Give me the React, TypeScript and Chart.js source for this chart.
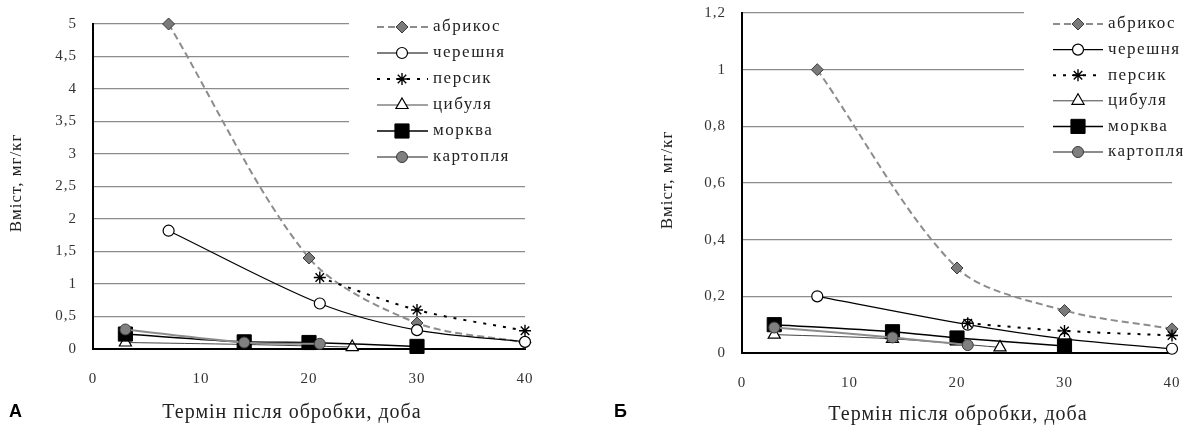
import React, { useEffect, useRef } from 'react';
import { Chart, registerables } from 'chart.js';

Chart.register(...registerables);

// ---------- data ----------
const SERIES_NAMES = ['абрикос', 'черешня', 'персик', 'цибуля', 'морква', 'картопля'];
const X_TICKS = [0, 10, 20, 30, 40];
const A_Y_TICKS = [0, 0.5, 1, 1.5, 2, 2.5, 3, 3.5, 4, 4.5, 5];
const B_Y_TICKS = [0, 0.2, 0.4, 0.6, 0.8, 1, 1.2];
const X_TITLE = 'Термін після обробки, доба';
const Y_TITLE = 'Вміст, мг/кг';

// Chart А
const A_APRICOT_DAYS = [7, 20, 30, 40];
const A_APRICOT = [5.0, 1.4, 0.4, 0.1];
const A_CHERRY_DAYS = [7, 21, 30, 40];
const A_CHERRY = [1.82, 0.7, 0.29, 0.11];
const A_PEACH_DAYS = [21, 30, 40];
const A_PEACH = [1.1, 0.6, 0.28];
const A_ONION_DAYS = [3, 14, 24];
const A_ONION = [0.1, 0.07, 0.03];
const A_CARROT_DAYS = [3, 14, 20, 30];
const A_CARROT = [0.23, 0.11, 0.1, 0.04];
const A_POTATO_DAYS = [3, 14, 21];
const A_POTATO = [0.3, 0.1, 0.08];

// Chart Б
const B_APRICOT_DAYS = [7, 20, 30, 40];
const B_APRICOT = [1.0, 0.3, 0.15, 0.085];
const B_CHERRY_DAYS = [7, 21, 30, 40];
const B_CHERRY = [0.2, 0.1, 0.05, 0.015];
const B_PEACH_DAYS = [21, 30, 40];
const B_PEACH = [0.105, 0.078, 0.062];
const B_ONION_DAYS = [3, 14, 24];
const B_ONION = [0.065, 0.05, 0.02];
const B_CARROT_DAYS = [3, 14, 20, 30];
const B_CARROT = [0.1, 0.075, 0.053, 0.025];
const B_POTATO_DAYS = [3, 14, 21];
const B_POTATO = [0.09, 0.055, 0.028];

// ---------- styles ----------
const SERIF = '"Liberation Serif", "Times New Roman", serif';

type SeriesStyle = {
  pointStyle: string; radius: number; fill: string; stroke: string; pbw: number;
  line: string; lw: number; dash: number[];
};

const STYLES: SeriesStyle[] = [
  { pointStyle: 'rectRot', radius: 6, fill: '#7a7a7a', stroke: '#3a3a3a', pbw: 1, line: '#8c8c8c', lw: 2, dash: [7, 4] },
  { pointStyle: 'circle', radius: 5.5, fill: '#ffffff', stroke: '#000000', pbw: 1.2, line: '#000000', lw: 1.2, dash: [] },
  { pointStyle: 'star', radius: 6, fill: '#000000', stroke: '#000000', pbw: 1.4, line: '#000000', lw: 2, dash: [3, 7] },
  { pointStyle: 'triangle', radius: 7, fill: '#ffffff', stroke: '#000000', pbw: 1.2, line: '#444444', lw: 1, dash: [] },
  { pointStyle: 'rect', radius: 10, fill: '#000000', stroke: '#000000', pbw: 1, line: '#000000', lw: 1.5, dash: [] },
  { pointStyle: 'circle', radius: 5.5, fill: '#808080', stroke: '#3a3a3a', pbw: 1, line: '#8c8c8c', lw: 2, dash: [] },
];

function drawMarker(ctx: CanvasRenderingContext2D, s: SeriesStyle, x: number, y: number) {
  const r = s.radius;
  ctx.save();
  ctx.setLineDash([]);
  ctx.fillStyle = s.fill;
  ctx.strokeStyle = s.stroke;
  ctx.lineWidth = s.pbw;
  ctx.beginPath();
  if (s.pointStyle === 'circle') {
    ctx.arc(x, y, r, 0, Math.PI * 2);
    ctx.fill(); ctx.stroke();
  } else if (s.pointStyle === 'rectRot') {
    ctx.moveTo(x, y - r); ctx.lineTo(x + r, y); ctx.lineTo(x, y + r); ctx.lineTo(x - r, y); ctx.closePath();
    ctx.fill(); ctx.stroke();
  } else if (s.pointStyle === 'rect') {
    const h = r * Math.SQRT1_2;
    ctx.rect(x - h, y - h, 2 * h, 2 * h);
    ctx.fill(); ctx.stroke();
  } else if (s.pointStyle === 'triangle') {
    ctx.moveTo(x, y - r);
    ctx.lineTo(x + r * 0.866, y + r / 2);
    ctx.lineTo(x - r * 0.866, y + r / 2);
    ctx.closePath();
    ctx.fill(); ctx.stroke();
  } else if (s.pointStyle === 'star') {
    for (let k = 0; k < 4; k++) {
      const a = (k * Math.PI) / 4;
      ctx.moveTo(x + Math.sin(a) * r, y - Math.cos(a) * r);
      ctx.lineTo(x - Math.sin(a) * r, y + Math.cos(a) * r);
    }
    ctx.stroke();
  }
  ctx.restore();
}

const fmt = (v: number) => String(+(+v).toFixed(1)).replace('.', ',');

type PanelCfg = {
  width: number; height: number;
  days: number[][]; vals: number[][];
  yTicks: number[]; yMax: number;
  padTop: number; padRight: number; yAxisWidth: number; xAxisHeight: number;
  legend: { boxX: number; boxY: number; boxW: number; boxH: number; x0: number; x1: number; xm: number; xt: number; y0: number; dy: number };
  xTitle: { x: number; y: number };
  yTitle: { x: number; y: number };
};

const decorPlugin = {
  id: 'decor',
  beforeDraw(chart: any) {
    (chart.ctx as any).letterSpacing = '1px';
  },
  afterDatasetsDraw(chart: any, _args: any, opts: any) {
    const ctx: CanvasRenderingContext2D = chart.ctx;
    const L = opts.legend;
    ctx.save();
    ctx.fillStyle = '#ffffff';
    ctx.fillRect(L.boxX, L.boxY, L.boxW, L.boxH);
    SERIES_NAMES.forEach((name, i) => {
      const s = STYLES[i];
      const y = L.y0 + i * L.dy;
      ctx.setLineDash(s.dash);
      ctx.strokeStyle = s.line;
      ctx.lineWidth = s.lw;
      ctx.beginPath();
      ctx.moveTo(L.x0, y);
      ctx.lineTo(L.x1, y);
      ctx.stroke();
      ctx.setLineDash([]);
      drawMarker(ctx, s, L.xm, y);
      ctx.fillStyle = '#222222';
      ctx.font = `17px ${SERIF}`;
      (ctx as any).letterSpacing = '1.5px';
      ctx.textAlign = 'left';
      ctx.textBaseline = 'middle';
      ctx.fillText(name, L.xt, y);
    });
    // axis titles
    ctx.fillStyle = '#222222';
    ctx.textAlign = 'center';
    ctx.textBaseline = 'middle';
    ctx.font = `20px ${SERIF}`;
    (ctx as any).letterSpacing = '1px';
    ctx.fillText(X_TITLE, opts.xTitle.x, opts.xTitle.y);
    ctx.save();
    ctx.translate(opts.yTitle.x, opts.yTitle.y);
    ctx.rotate(-Math.PI / 2);
    ctx.font = `17px ${SERIF}`;
    ctx.fillText(Y_TITLE, 0, 0);
    ctx.restore();
    ctx.restore();
  },
};

function Panel({ cfg, left }: { cfg: PanelCfg; left: number }) {
  const ref = useRef<HTMLCanvasElement | null>(null);
  useEffect(() => {
    if (!ref.current) return;
    const datasets = SERIES_NAMES.map((name, i) => {
      const s = STYLES[i];
      return {
        label: name,
        data: cfg.days[i].map((d, j) => ({ x: d, y: cfg.vals[i][j] })),
        borderColor: s.line,
        borderWidth: s.lw,
        borderDash: s.dash,
        pointStyle: s.pointStyle,
        pointRadius: s.radius,
        pointHoverRadius: s.radius,
        pointBackgroundColor: s.fill,
        pointBorderColor: s.stroke,
        pointBorderWidth: s.pbw,
        tension: 0.3,
        fill: false,
        clip: false as any,
        order: SERIES_NAMES.length - i,
      };
    });
    const chart = new Chart(ref.current, {
      type: 'line',
      data: { datasets: datasets as any },
      plugins: [decorPlugin as any],
      options: {
        responsive: false,
        animation: false,
        events: [],
        layout: { padding: { left: 0, right: cfg.padRight, top: cfg.padTop, bottom: 0 } },
        plugins: {
          legend: { display: false },
          tooltip: { enabled: false },
          decor: { legend: cfg.legend, xTitle: cfg.xTitle, yTitle: cfg.yTitle },
        } as any,
        scales: {
          x: {
            type: 'linear',
            min: 0,
            max: 40,
            afterBuildTicks: (s: any) => { s.ticks = X_TICKS.map((v) => ({ value: v })); },
            afterFit: (s: any) => { s.height = cfg.xAxisHeight; s.paddingLeft = 0; s.paddingRight = 0; },
            grid: { display: false },
            border: { display: true, color: '#000000', width: 2 },
            ticks: {
              padding: 13,
              color: '#333333',
              font: { family: SERIF, size: 15 },
              maxRotation: 0,
              autoSkip: false,
              callback: (v: any) => fmt(v),
            },
          },
          y: {
            type: 'linear',
            min: 0,
            max: cfg.yMax,
            afterBuildTicks: (s: any) => { s.ticks = cfg.yTicks.map((v) => ({ value: v })); },
            afterFit: (s: any) => { s.width = cfg.yAxisWidth; s.paddingTop = 0; s.paddingBottom = 0; },
            grid: { color: '#8c8c8c', lineWidth: 1.2, drawTicks: false },
            border: { display: true, color: '#000000', width: 2 },
            ticks: {
              padding: 16,
              color: '#333333',
              font: { family: SERIF, size: 15 },
              autoSkip: false,
              callback: (v: any) => fmt(v),
            },
          },
        },
      },
    });
    return () => chart.destroy();
  }, [cfg]);
  return (
    <canvas
      ref={ref}
      width={cfg.width}
      height={cfg.height}
      style={{ position: 'absolute', left, top: 0, width: cfg.width, height: cfg.height }}
    />
  );
}

const CFG_A: PanelCfg = {
  width: 560, height: 434,
  days: [A_APRICOT_DAYS, A_CHERRY_DAYS, A_PEACH_DAYS, A_ONION_DAYS, A_CARROT_DAYS, A_POTATO_DAYS],
  vals: [A_APRICOT, A_CHERRY, A_PEACH, A_ONION, A_CARROT, A_POTATO],
  yTicks: A_Y_TICKS, yMax: 5,
  padTop: 24, padRight: 35, yAxisWidth: 93, xAxisHeight: 85,
  legend: { boxX: 349, boxY: 0, boxW: 176, boxH: 172, x0: 377, x1: 428, xm: 402, xt: 433, y0: 27, dy: 26 },
  xTitle: { x: 292, y: 413 },
  yTitle: { x: 17, y: 183 },
};

const CFG_B: PanelCfg = {
  width: 585, height: 434,
  days: [B_APRICOT_DAYS, B_CHERRY_DAYS, B_PEACH_DAYS, B_ONION_DAYS, B_CARROT_DAYS, B_POTATO_DAYS],
  vals: [B_APRICOT, B_CHERRY, B_PEACH, B_ONION, B_CARROT, B_POTATO],
  yTicks: B_Y_TICKS, yMax: 1.2,
  padTop: 13, padRight: 13, yAxisWidth: 142, xAxisHeight: 81,
  legend: { boxX: 424, boxY: 0, boxW: 148, boxH: 168, x0: 453, x1: 503, xm: 478, xt: 508, y0: 24, dy: 25.6 },
  xTitle: { x: 358, y: 415 },
  yTitle: { x: 68, y: 180 },
};

export default function App() {
  return (
    <div style={{ position: 'absolute', left: 0, top: 0, width: 1185, height: 434, background: '#ffffff', overflow: 'hidden' }}>
      <Panel cfg={CFG_A} left={0} />
      <Panel cfg={CFG_B} left={600} />
      <div style={{ position: 'absolute', left: 9, top: 402, font: 'bold 18px "Liberation Sans", Arial, sans-serif', lineHeight: '18px', color: '#000' }}>А</div>
      <div style={{ position: 'absolute', left: 614, top: 402, font: 'bold 18px "Liberation Sans", Arial, sans-serif', lineHeight: '18px', color: '#000' }}>Б</div>
    </div>
  );
}
